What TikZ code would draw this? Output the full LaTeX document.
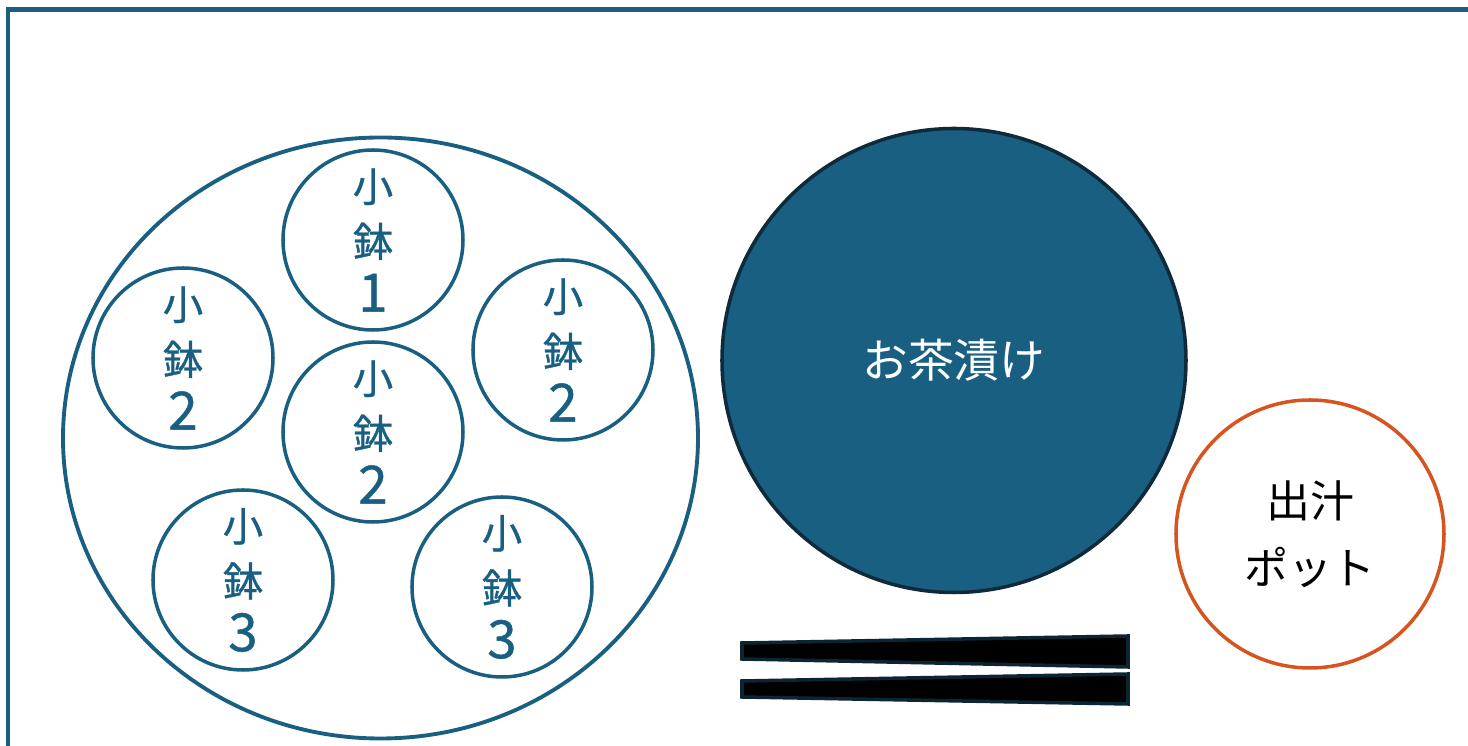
\documentclass[tikz,border=0pt]{standalone}
\usepackage{fontspec}
\usetikzlibrary{shapes.geometric}
\newfontfamily\jp{Noto Sans CJK JP}
\newfontfamily\jpb[FakeBold=0.8]{Noto Sans CJK JP}
\newcommand{\bignum}[1]{{\fontsize{15}{15.6}\selectfont #1}}
\definecolor{tblue}{HTML}{185F82}
\definecolor{tdark}{HTML}{0E2A3B}
\definecolor{torange}{HTML}{D5541F}
\definecolor{stick}{HTML}{0B2535}
\begin{document}
\begin{tikzpicture}[x=0.01cm,y=-0.01cm,
  bowl/.style={circle,draw=tblue,line width=1pt,minimum size=180*0.01cm,inner sep=0pt,
    text=tblue,font=\jpb\fontsize{11.5}{15.6}\selectfont,align=center},
  stickshape/.style={fill=black,draw=stick,line width=1pt,line join=miter}]
\useasboundingbox (0,0) rectangle (1468,746);
\draw[tblue,line width=1.15pt] (8,746) -- (8,9.5) -- (1468,9.5);
\node[ellipse,draw=tblue,line width=1.1pt,minimum width=635*0.01cm,minimum height=601*0.01cm,inner sep=0pt] (plate) at (380.5,438) {};
\node[bowl] (k1) at (373,240) {小\\鉢\\\bignum{1}};
\node[bowl] (k2l) at (183,358) {小\\鉢\\\bignum{2}};
\node[bowl] (k2r) at (563,350) {小\\鉢\\\bignum{2}};
\node[bowl] (k2c) at (373,432) {小\\鉢\\\bignum{2}};
\node[bowl] (k3l) at (243,580) {小\\鉢\\\bignum{3}};
\node[bowl] (k3r) at (502,587) {小\\鉢\\\bignum{3}};
\node[circle,fill=tblue,draw=tdark,line width=1pt,minimum size=464*0.01cm,inner sep=0pt,
  text=white,font=\jp\fontsize{13}{16}\selectfont] (chaz) at (954,360.5) {お茶漬け};
\node[circle,draw=torange,line width=1pt,minimum size=268*0.01cm,inner sep=0pt,
  font=\jp\fontsize{12.5}{19}\selectfont,align=center] (pot) at (1310,534) {出汁\\ポット};
\draw[stickshape] (742,643) -- (1128,636) -- (1128,667) -- (742,659) -- cycle;
\draw[stickshape] (742,681) -- (1128,674) -- (1128,704) -- (742,697) -- cycle;
\end{tikzpicture}
\end{document}
